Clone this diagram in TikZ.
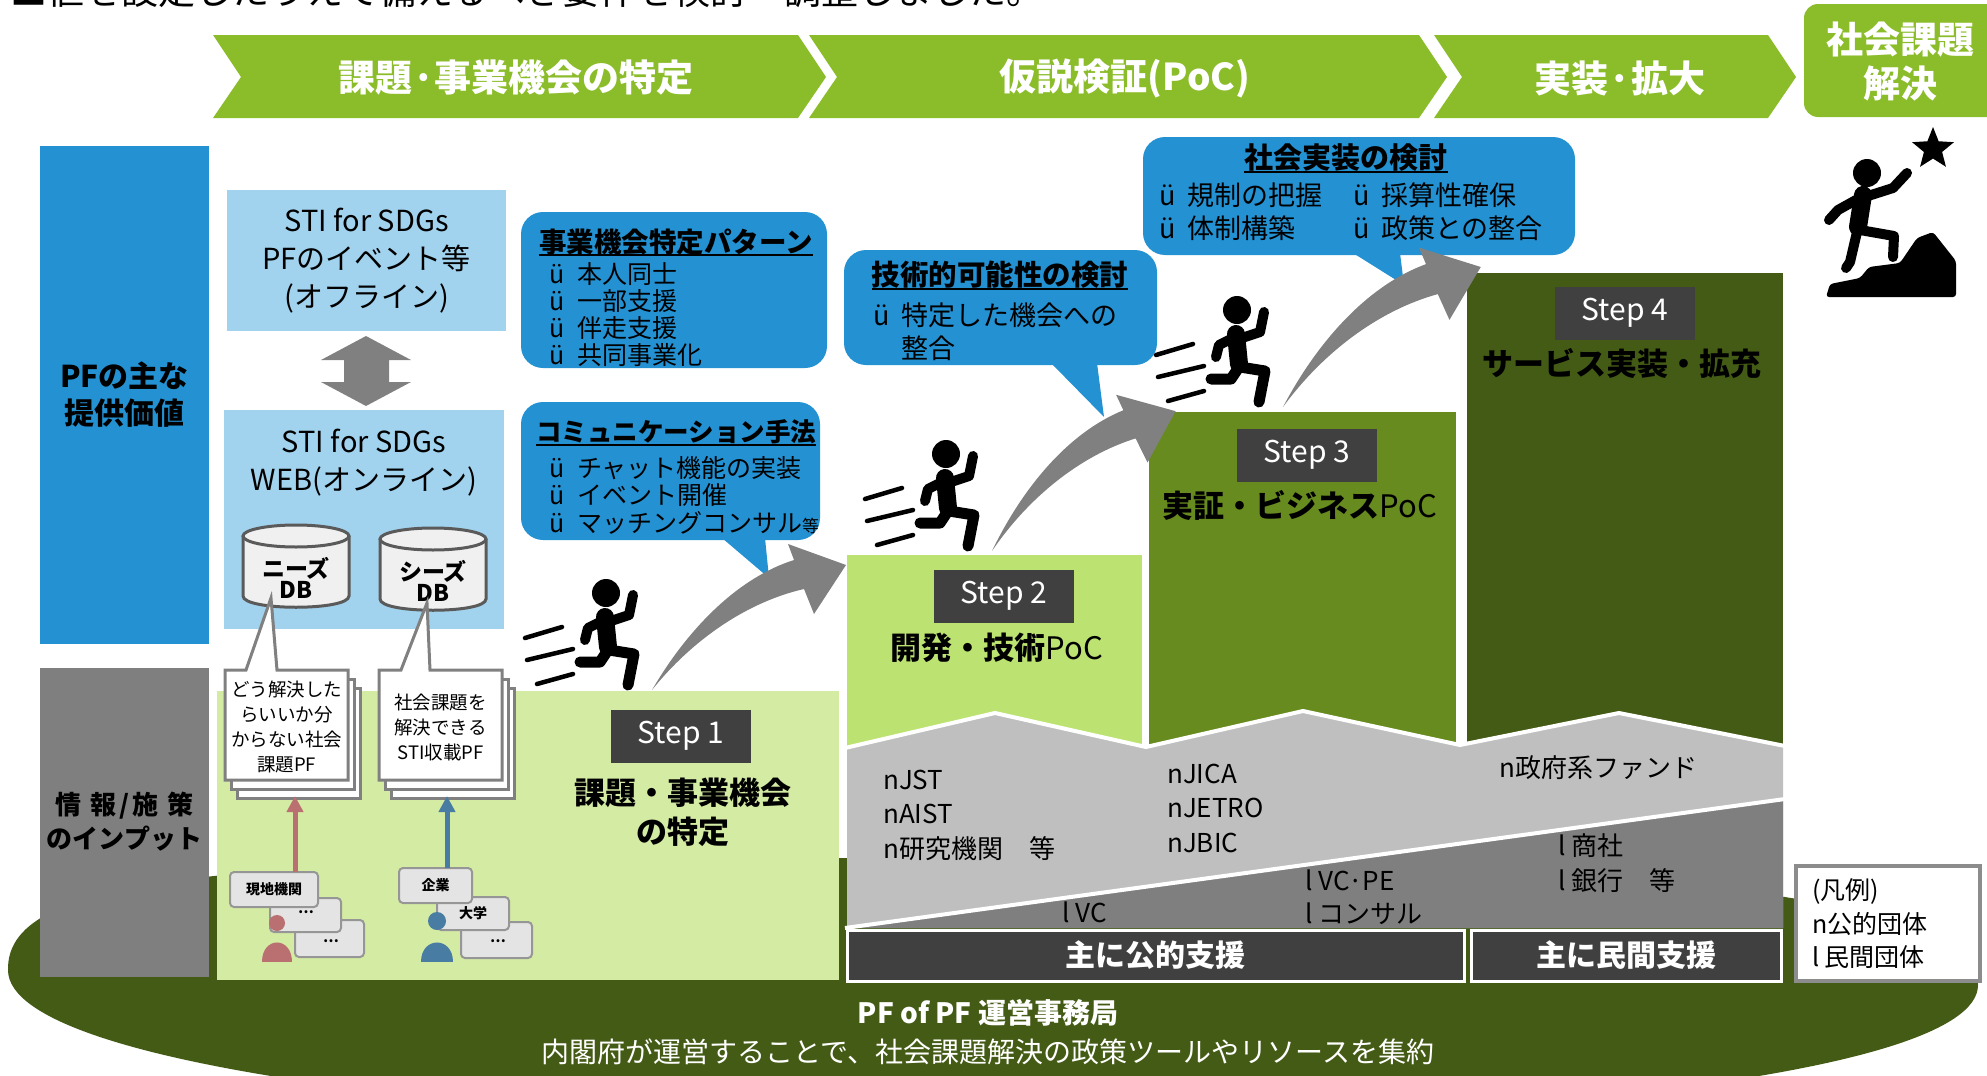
\documentclass[tikz,border=0pt]{standalone}
\usepackage{fontspec}
\setmainfont{Noto Sans CJK JP}
\usepackage{xcolor}
\definecolor{bannergreen}{RGB}{139,188,41}
\definecolor{pfblue}{RGB}{35,145,210}
\definecolor{paleblue}{RGB}{162,211,238}
\definecolor{stepone}{RGB}{212,235,164}
\definecolor{steptwo}{RGB}{188,227,113}
\definecolor{stepthree}{RGB}{103,139,31}
\definecolor{stepfour}{RGB}{68,91,21}
\definecolor{bandlight}{RGB}{191,191,191}
\definecolor{banddark}{RGB}{127,127,127}
\definecolor{barslate}{RGB}{64,64,64}
\definecolor{arrowgray}{RGB}{128,128,128}
\definecolor{canwhite}{RGB}{240,240,240}
\definecolor{candark}{RGB}{90,90,90}
\definecolor{docgray}{RGB}{128,128,128}
\definecolor{iconfill}{RGB}{228,228,228}
\definecolor{icondraw}{RGB}{150,150,150}
\definecolor{pinred}{RGB}{186,112,112}
\definecolor{pinblue}{RGB}{72,124,162}
\definecolor{legendgray}{RGB}{140,140,140}
\usepackage{tikz}
\usetikzlibrary{arrows.meta, positioning, calc, shapes.geometric}

\newcommand{\fsz}[2]{\fontsize{#1}{#2}\selectfont}
\newcommand{\ck}{\makebox[28pt][l]{ü}}

\tikzset{
  chevron/.style={fill=bannergreen},
  bannertext/.style={text=white, font=\fsz{37}{44}\bfseries, align=center},
  sidebox/.style={font=\fsz{30}{37}\bfseries, align=center, minimum width=169pt, inner sep=0pt},
  stitext/.style={font=\fsz{29}{38}, align=center},
  dbcan/.style={fill=canwhite, draw=candark, line width=3pt},
  dbtext/.style={font=\fsz{23}{21}\bfseries, align=center, inner sep=0pt},
  docpage/.style={fill=white, draw=docgray, line width=3pt},
  doctext/.style={font=\fsz{18.5}{25}, align=center, inner sep=0pt},
  iconbox/.style={fill=iconfill, draw=icondraw, line width=2pt, rounded corners=4pt},
  icontext/.style={font=\fsz{14}{16}\bfseries, inner sep=0pt},
  bubble/.style={fill=pfblue, rounded corners=22pt},
  bubbletitle/.style={font=\bfseries, inner sep=0pt},
  bubbleitems/.style={align=left, inner sep=0pt, anchor=west},
  stepbox/.style={fill=barslate, text=white, font=\fsz{30}{36}, minimum width=140pt, minimum height=53pt},
  steplabel/.style={font=\fsz{31}{39}, align=center, inner sep=0pt},
  bandtext/.style={font=\fsz{26}{34.5}, align=left, anchor=west, inner sep=0pt},
  supportbar/.style={fill=barslate, draw=white, line width=3pt, text=white, font=\fsz{30}{36}\bfseries, minimum height=51pt},
  pics/runner/.style={code={
    \fill (0,0) circle[radius=14];
    \draw[line width=18pt, line cap=round] (-1,24) -- (2,54);
    \draw[line width=10pt, line cap=round, line join=round] (5,28) -- (23,22) -- (27,2);
    \draw[line width=10pt, line cap=round, line join=round] (-6,29) -- (-18,35) -- (-21,47);
    \draw[line width=11pt, line cap=round, line join=round] (3,57) -- (28,61) -- (22,92);
    \draw[line width=11pt, line cap=round, line join=round] (0,60) -- (-6,69) -- (-26,69);
    \draw[line width=4.5pt, line cap=round] (-81,45) -- (-44,34) (-79,67) -- (-33,56) (-69,91) -- (-33,81);
  }},
  pics/climb/.style={code={
    \fill[arrowgray] (0,0) .. controls (35,-60) and (85,-112) .. (142,-130) -- (136,-146) -- (194,-125)
      -- (162,-76) -- (152,-101) .. controls (95,-88) and (40,-50) .. (0,0) -- cycle;
  }}
}

\begin{document}
\begin{tikzpicture}[x=1pt, y=-1pt, >=Stealth]
  \useasboundingbox (0,0) rectangle (1987,1076);

  % PF of PF base
  \fill[stepfour] (8,970) .. controls (6,870) and (250,858) .. (900,858) .. controls (1500,858) and (1978,880) .. (1978,985)
    .. controls (1978,1080) and (1450,1125) .. (993,1125) .. controls (540,1125) and (8,1070) .. (8,970) -- cycle;
  \node[text=white, font=\fsz{28}{34}\bfseries] (baseorg) at (988,1013) {PF of PF 運営事務局};
  \node[text=white, font=\fsz{28}{34}] (basenote) at (988,1052) {内閣府が運営することで、社会課題解決の政策ツールやリソースを集約};

  % header
  \node[anchor=base west, inner sep=0pt, font=\fsz{37}{44}] (leadline) at (10,5) {■値を設定したうえで備えるべき要件を検討・調整しました。};
  \fill[chevron] (213,35) -- (798,35) -- (826,77) -- (798,118) -- (213,118) -- (241,77) -- cycle;
  \fill[chevron] (809,35) -- (1419,35) -- (1447,77) -- (1419,118) -- (809,118) -- (837,77) -- cycle;
  \fill[chevron] (1434,35) -- (1768,35) -- (1796,77) -- (1768,118) -- (1434,118) -- (1462,77) -- cycle;
  \fill[chevron, rounded corners=14pt] (1804,4) rectangle (2010,117);
  \node[bannertext] (phase1) at (516,78) {課題·事業機会の特定};
  \node[bannertext] (phase2) at (1125,78) {仮説検証(PoC)};
  \node[bannertext] (phase3) at (1620,78) {実装·拡大};
  \node[bannertext] (goal) at (1900,62) {社会課題\\解決};

  % left column
  \node[sidebox, fill=pfblue, minimum height=498pt] (valuebox) at (124.5,395) {PFの主な\\提供価値};
  \node[sidebox, fill=banddark, minimum height=309pt, font=\fsz{26}{34}\bfseries] (inputbox) at (124.5,822)
    {情\hspace{9pt}報\hspace{3pt}/\hspace{3pt}施\hspace{9pt}策\\のインプット};

  % steps
  \fill[stepone] (217,691) rectangle (839,980);
  \fill[steptwo] (847,555) rectangle (1142,760);
  \fill[stepthree] (1149,412) rectangle (1456,760);
  \fill[stepfour] (1467,273) rectangle (1783,760);

  % support band
  \fill[bandlight] (847,747) -- (995,713) -- (1146,747) -- (1303,711) -- (1460,745) -- (1619,713) -- (1783,745)
    -- (1783,928) -- (847,928) -- cycle;
  \draw[white, line width=4pt] (845,748) -- (995,713) -- (1146,747) -- (1303,711) -- (1460,745) -- (1619,713) -- (1785,746);
  \fill[banddark] (847,928) -- (1783,799) -- (1783,928) -- cycle;
  \draw[white, line width=4pt] (845,928) -- (1785,799);
  \node[bandtext] (publicA) at (883,815) {nJST\\nAIST\\n研究機関　等};
  \node[bandtext] (publicB) at (1167,808) {nJICA\\nJETRO\\nJBIC};
  \node[bandtext] (publicC) at (1499,768) {n政府系ファンド};
  \node[bandtext] (privA) at (1062,912) {l VC};
  \node[bandtext, font=\fsz{26}{33}] (privB) at (1305,897) {l VC·PE\\l コンサル};
  \node[bandtext, font=\fsz{26}{35}] (privC) at (1558,863) {l 商社\\l 銀行　等};
  \node[supportbar, minimum width=617pt] (pubbar) at (1155.5,955.5) {主に公的支援};
  \node[supportbar, minimum width=310pt] (privbar) at (1626,955.5) {主に民間支援};

  % legend
  \filldraw[fill=white, draw=legendgray, line width=4pt] (1796,866) rectangle (1980,981);
  \node[bandtext, font=\fsz{25}{33.5}] (legendtext) at (1812,924) {(凡例)\\n公的団体\\l 民間団体};

  % STI for SDGs
  \node[fill=paleblue, stitext, minimum width=279pt, minimum height=141pt] (offline) at (366.5,260.5)
    {STI for SDGs\\PFのイベント等\\(オフライン)};
  \fill[paleblue] (224,410) rectangle (504,629);
  \node[stitext] (online) at (364,463) {STI for SDGs\\WEB(オンライン)};
  \fill[arrowgray] (366,336) -- (411,360) -- (389,360) -- (389,382) -- (411,382) -- (366,406) -- (321,382)
    -- (344,382) -- (344,360) -- (321,360) -- cycle;

  % databases
  \filldraw[dbcan] (243,536) -- (243,596) .. controls (243,611) and (349,611) .. (349,596) -- (349,536);
  \filldraw[dbcan] (296,536) ellipse [x radius=53, y radius=11];
  \filldraw[dbcan] (380,539) -- (380,599) .. controls (380,614) and (486,614) .. (486,599) -- (486,539);
  \filldraw[dbcan] (433,539) ellipse [x radius=53, y radius=11];
  \node[dbtext] (needsdb) at (296,578) {ニーズ\\DB};
  \node[dbtext] (seedsdb) at (433,581) {シーズ\\DB};

  % platform sheets
  \filldraw[docpage] (237,688) rectangle (360,798);
  \filldraw[docpage] (231,679) rectangle (354,789);
  \filldraw[docpage] (225,670) -- (246,670) -- (271,598) -- (277,670) -- (348,670) -- (348,780) -- (225,780) -- cycle;
  \node[doctext] (needsdoc) at (286.5,727) {どう解決した\\らいいか分\\からない社会\\課題PF};
  \filldraw[docpage] (391,688) rectangle (514,798);
  \filldraw[docpage] (385,679) rectangle (508,789);
  \filldraw[docpage] (379,670) -- (401,670) -- (427,603) -- (430,670) -- (502,670) -- (502,780) -- (379,780) -- cycle;
  \node[doctext] (seedsdoc) at (440.5,727) {社会課題を\\解決できる\\STI収載PF};

  % local organisations
  \filldraw[iconbox] (295,920) rectangle (364,957);
  \filldraw[iconbox] (270,898) rectangle (341,932);
  \node[iconbox, icontext, minimum width=88pt, minimum height=35pt] (localorg) at (274,889.5) {現地機関};
  \node[icontext] (localmoreA) at (306,912) {…};
  \node[icontext] (localmoreB) at (331,941) {…};
  \fill[pinred] (277,923) circle[radius=8];
  \fill[pinred] (262,962) .. controls (262,936) and (292,936) .. (292,962) -- cycle;
  % companies
  \filldraw[iconbox] (461,922) rectangle (532,958);
  \node[iconbox, icontext, minimum width=72pt, minimum height=33pt] (univ) at (473,913.5) {大学};
  \node[iconbox, icontext, minimum width=73pt, minimum height=35pt] (company) at (435.5,885.5) {企業};
  \node[icontext] (compmore) at (498,941) {…};
  \fill[pinblue] (437,921) circle[radius=9];
  \fill[pinblue] (421,962) .. controls (421,936) and (453,936) .. (453,962) -- cycle;

  \coordinate (redfoot) at (295,872);
  \coordinate (redtip) at (295,796);
  \coordinate (bluefoot) at (447,868);
  \coordinate (bluetip) at (447,796);
  \draw[pinred, line width=5pt, -{Triangle[width=16pt,length=16pt]}] (redfoot) -- (redtip);
  \draw[pinblue, line width=5pt, -{Triangle[width=16pt,length=16pt]}] (bluefoot) -- (bluetip);

  % balloons
  \fill[bubble] (521,212) rectangle (827,368);
  \node[bubbletitle, font=\fsz{27.5}{32}\bfseries] (ttla) at (676,242) {事業機会特定パターン};
  \draw[line width=2pt] ([yshift=-3pt]ttla.base west) -- ([yshift=-3pt]ttla.base east);
  \node[bubbleitems, font=\fsz{25}{27}] (itemsa) at (549,315) {\ck 本人同士\\\ck 一部支援\\\ck 伴走支援\\\ck 共同事業化};

  \fill[bubble] (521,402) rectangle (820,540);
  \fill[pfblue] (722,538) -- (769,578) -- (765,538) -- cycle;
  \node[bubbletitle, font=\fsz{25.5}{30}\bfseries] (ttlb) at (676,432) {コミュニケーション手法};
  \draw[line width=2pt] ([yshift=-3pt]ttlb.base west) -- ([yshift=-3pt]ttlb.base east);
  \node[bubbleitems, font=\fsz{25}{27.5}] (itemsb) at (549,495)
    {\ck チャット機能の実装\\\ck イベント開催\\\ck マッチングコンサル{\fsz{17}{20}等}};

  \fill[bubble] (844,250) rectangle (1157,365);
  \fill[pfblue] (1051,363) -- (1104,417) -- (1097,363) -- cycle;
  \node[bubbletitle, font=\fsz{28.5}{33}\bfseries] (ttlc) at (1000,275) {技術的可能性の検討};
  \draw[line width=2pt] ([yshift=-3pt]ttlc.base west) -- ([yshift=-3pt]ttlc.base east);
  \node[bubbleitems, font=\fsz{27}{33}] (itemsc) at (873,331.5) {\ck 特定した機会への\\\hspace*{28pt}整合};

  \fill[bubble] (1143,137) rectangle (1575,255);
  \fill[pfblue] (1353,253) -- (1404,285) -- (1400,253) -- cycle;
  \node[bubbletitle, font=\fsz{29}{34}\bfseries] (ttld) at (1346,158) {社会実装の検討};
  \draw[line width=2pt] ([yshift=-3pt]ttld.base west) -- ([yshift=-3pt]ttld.base east);
  \node[bubbleitems, font=\fsz{27}{33}] (itemsd) at (1159,211.5) {\ck 規制の把握\\\ck 体制構築};
  \node[bubbleitems, font=\fsz{27}{33}] (itemse) at (1353,211.5) {\ck 採算性確保\\\ck 政策との整合};

  % runners and arrows
  \pic at (652,690) {climb};
  \pic[rotate=4.5] at (992,551) {climb};
  \pic[rotate=2.5, scale=1.05] at (1283,407) {climb};
  \pic at (606,593) {runner};
  \pic at (946,454) {runner};
  \pic at (1237,310) {runner};

  % step titles
  \node[stepbox] (stepa) at (681,736) {Step 1};
  \node[steplabel, font=\fsz{31}{39}\bfseries] (labela) at (683,812) {課題・事業機会\\の特定};
  \node[stepbox] (stepb) at (1004,596) {Step 2};
  \node[steplabel] (labelb) at (997,648) {{\bfseries 開発・技術}PoC};
  \node[stepbox] (stepc) at (1307,455) {Step 3};
  \node[steplabel] (labelc) at (1300,505) {{\bfseries 実証・ビジネス}PoC};
  \node[stepbox] (stepd) at (1625,313) {Step 4};
  \node[steplabel, font=\fsz{31}{39}\bfseries] (labeld) at (1622,363) {サービス実装・拡充};

  % goal figure
  \node[star, star points=5, star point ratio=2.3, fill=black, minimum size=44pt, inner sep=0pt] (goalstar) at (1933,149) {};
  \fill (1867,173) circle[radius=14];
  \draw[line width=18pt, line cap=round] (1863,195) -- (1858,227);
  \draw[line width=10pt, line cap=round, line join=round] (1868,196) -- (1893,188) -- (1907,173);
  \draw[line width=10pt, line cap=round, line join=round] (1856,200) -- (1838,210) -- (1829,220);
  \draw[line width=10pt, line cap=round, line join=round] (1860,230) -- (1894,236) -- (1893,257);
  \draw[line width=10pt, line cap=round, line join=round] (1857,232) -- (1850,262) -- (1846,268);
  \fill[rounded corners=3pt] (1826,297) -- (1830,284) -- (1860,278) -- (1869,267) -- (1900,263) -- (1917,238)
    -- (1933,232) -- (1956,261) -- (1956,297) -- cycle;
\end{tikzpicture}
\end{document}
